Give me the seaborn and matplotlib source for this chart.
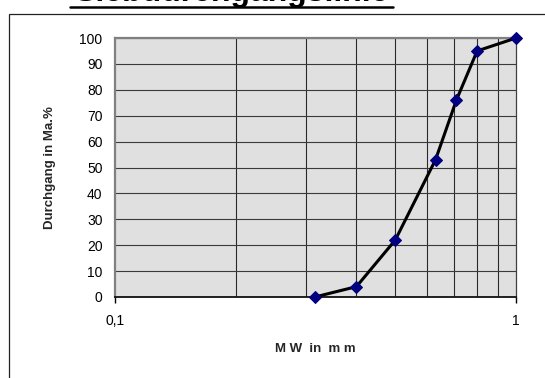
import matplotlib
matplotlib.use("Agg")
import matplotlib.pyplot as plt
import matplotlib.ticker as mticker
from matplotlib.patches import Rectangle
from matplotlib.lines import Line2D
import seaborn as sns
import pandas as pd

# Sieve analysis: mesh width (mm) and cumulative passing (mass-%)
mesh_mm = [0.315, 0.4, 0.5, 0.63, 0.71, 0.8, 1.0]
passing_pct = [0, 4, 22, 53, 76, 95, 100]
y_ticks = [0, 10, 20, 30, 40, 50, 60, 70, 80, 90, 100]
x_tick_values = [0.1, 1]
x_tick_labels = ["0,1", "1"]

sns.set_theme(style="white")
plt.rcParams["font.family"] = ["Liberation Sans", "DejaVu Sans"]

df = pd.DataFrame({"mesh": mesh_mm, "passing": passing_pct})

fig = plt.figure(figsize=(5.45, 3.78), dpi=100)
ax = fig.add_axes([115 / 545, 1 - 297 / 378, 401 / 545, 259 / 378])
ax.set_facecolor("#E0E0E0")

sns.lineplot(data=df, x="mesh", y="passing", ax=ax, color="black",
             linewidth=2.2, marker="D", markersize=6.5,
             markerfacecolor="#000080", markeredgecolor="#000080",
             clip_on=False, zorder=5)

ax.set_xscale("log")
ax.set_xlim(0.1, 1)
ax.set_ylim(0, 100)
ax.xaxis.set_major_locator(mticker.FixedLocator(x_tick_values))
ax.xaxis.set_major_formatter(mticker.FixedFormatter(x_tick_labels))
ax.xaxis.set_minor_locator(mticker.LogLocator(base=10, subs=range(2, 10)))
ax.xaxis.set_minor_formatter(mticker.NullFormatter())
ax.set_yticks(y_ticks)

ax.grid(True, which="minor", axis="x", color="#2a2a2a", linewidth=0.8)
ax.grid(True, which="major", axis="y", color="#3a3a3a", linewidth=0.8)
ax.set_axisbelow(True)

for side in ("top", "left"):
    ax.spines[side].set_color("#808080")
    ax.spines[side].set_linewidth(1.6)
ax.spines["right"].set_color("#404040")
ax.spines["right"].set_linewidth(0.9)
ax.spines["bottom"].set_color("#111111")
ax.spines["bottom"].set_linewidth(1.3)

ax.tick_params(axis="x", which="major", direction="out", length=4, width=1,
               color="black", labelsize=10, pad=8, bottom=True)
ax.tick_params(axis="x", which="minor", length=0)
ax.tick_params(axis="y", length=0, labelsize=10, pad=9, left=False)
for lbl in ax.get_xticklabels() + ax.get_yticklabels():
    lbl.set_color("black")

ax.set_xlabel("M W  in  m m", fontsize=9.5, fontweight="bold", labelpad=11)
ax.set_ylabel("Durchgang in Ma.%", fontsize=9.5, fontweight="bold", labelpad=17)

# outer chart frame
fig.add_artist(Rectangle((9 / 545, -0.05), 1.1, 1 - 14 / 378 + 0.05,
                         transform=fig.transFigure, fill=False,
                         edgecolor="#222222", linewidth=0.9))

# underlined heading, partly above the top edge
fig.text(231 / 545, 1 - 1 / 378, "Siebdurchgangslinie", ha="center",
         va="baseline", fontsize=23, fontweight="bold", color="black")
fig.add_artist(Line2D([70 / 545, 393 / 545], [1 - 6.5 / 378, 1 - 6.5 / 378],
                      transform=fig.transFigure, color="black", linewidth=1.8))

fig.savefig("out.png", dpi=100)
